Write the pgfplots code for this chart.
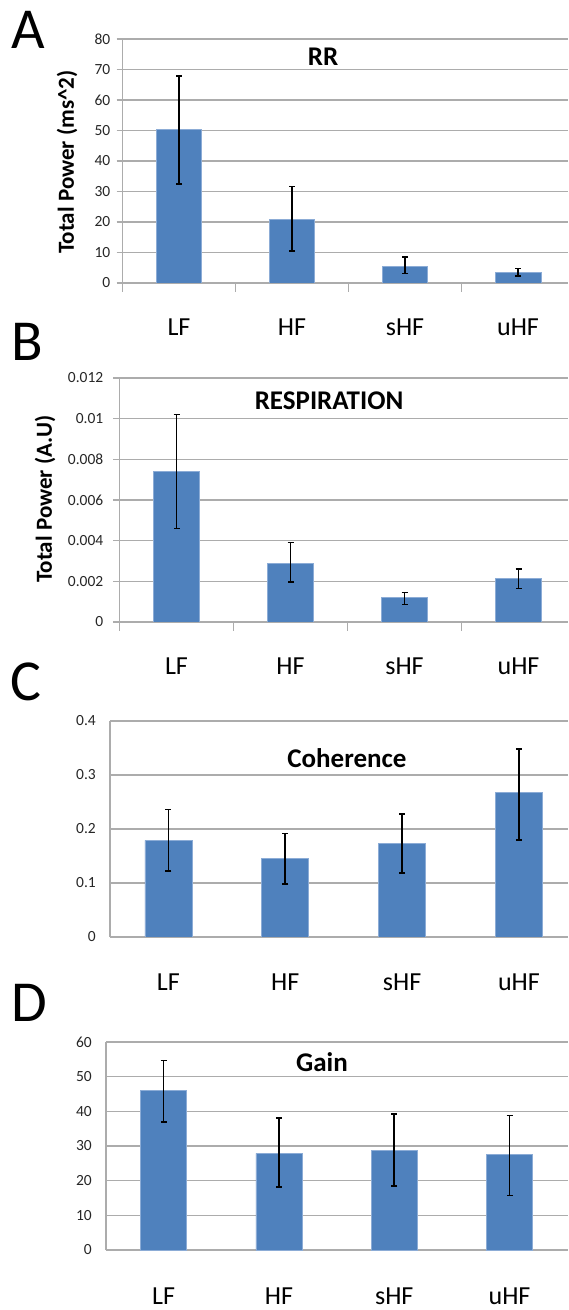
\documentclass[border=0pt]{standalone}
\usepackage{fontspec}
\setmainfont{Carlito}
\usepackage{pgfplots}
\pgfplotsset{compat=1.18}

\definecolor{barblue}{RGB}{79,129,189}
\definecolor{baredge}{RGB}{140,172,214}
\definecolor{gridgray}{RGB}{172,172,172}

\pgfplotsset{
  panel/.style={
    scale only axis, anchor=south west,
    ybar, ymin=0, enlargelimits=false,
    xmin=-0.5, scaled y ticks=false,
    axis x line*=bottom, axis y line*=left,
    axis line style={gridgray, line width=1.4pt, -},
    ymajorgrids, grid style={gridgray, line width=1.2pt},
    xtick={0,1,2,3}, xticklabels={LF,HF,sHF,uHF},
    xticklabel style={font=\fontsize{26}{30}\selectfont, anchor=base, text=black},
    yticklabel style={font=\fontsize{15.5}{18}\selectfont, text=black!85, inner sep=0pt},
    /pgf/number format/assume math mode=true,
    tick align=outside,
  },
  % panels A and B: tick marks on both axes
  ticked/.style={
    major tick length=6pt,
    ytick style={gridgray, line width=1.3pt},
    xtick style={draw=none},
    extra x ticks={-0.5,0.5,1.5,2.5}, extra x tick labels={},
    extra x tick style={xtick style={draw=gridgray, line width=1.4pt}, major tick length=9pt},
    xticklabel style={yshift=-47pt},
  },
  % panels C and D: no tick marks
  plain/.style={
    major tick length=0pt, tick style={draw=none},
    xticklabel style={yshift=-54pt},
    yticklabel style={xshift=-14pt},
  },
  bars/.style={
    fill=barblue, draw=baredge, line width=0.7pt,
    error bars/.cd, y dir=both, y explicit,
    error bar style={black, line width=1.6pt},
    error mark options={rotate=90, mark size=3pt, line width=1.6pt, black},
  },
}

\begin{document}
\begin{tikzpicture}
\path[use as bounding box] (0,0) rectangle (568pt,1310pt);

% ---- A: RR ----
\begin{axis}[panel, ticked, at={(122.5pt,1027pt)}, width=445.5pt, height=244pt,
  xmax=3.442, ymax=80, ytick={0,10,...,80}, bar width=45.6pt,
  yticklabel style={xshift=-6pt}]
\addplot[bars] coordinates {
  (0,50.4) += (0,17.5) -= (0,18.0)
  (1,20.9) += (0,10.7) -= (0,10.5)
  (2,5.3)  += (0,3.2)  -= (0,2.2)
  (3,3.4)  += (0,1.3)  -= (0,1.1)
};
\end{axis}

% ---- B: RESPIRATION ----
\begin{axis}[panel, ticked, at={(119.5pt,688pt)}, width=448.5pt, height=244pt,
  xmax=3.434, ymax=0.012, ytick={0,0.002,0.004,0.006,0.008,0.01,0.012},
  yticklabels={0,0.002,0.004,0.006,0.008,0.01,0.012}, bar width=45.6pt,
  yticklabel style={xshift=-10pt}]
\addplot[bars] coordinates {
  (0,0.0074)  += (0,0.0028)  -= (0,0.0028)
  (1,0.0029)  += (0,0.0010)  -= (0,0.00093)
  (2,0.0012)  += (0,0.00026) -= (0,0.00033)
  (3,0.00214) += (0,0.00046) -= (0,0.0005)
};
\end{axis}

% ---- C: Coherence ----
\begin{axis}[panel, plain, at={(110pt,373pt)}, width=458pt, height=216pt,
  xmax=3.42, ymax=0.4, ytick={0,0.1,0.2,0.3,0.4},
  yticklabels={0,0.1,0.2,0.3,0.4}, bar width=47pt]
\addplot[bars] coordinates {
  (0,0.179) += (0,0.057) -= (0,0.057)
  (1,0.146) += (0,0.046) -= (0,0.048)
  (2,0.174) += (0,0.054) -= (0,0.056)
  (3,0.267) += (0,0.081) -= (0,0.087)
};
\end{axis}

% ---- D: Gain ----
\begin{axis}[panel, plain, at={(106pt,60pt)}, width=462pt, height=208pt,
  xmax=3.507, ymax=60, ytick={0,10,...,60}, bar width=46pt]
\addplot[bars] coordinates {
  (0,46.1) += (0,8.6)  -= (0,9.1)
  (1,27.9) += (0,10.2) -= (0,9.8)
  (2,28.7) += (0,10.5) -= (0,10.2)
  (3,27.5) += (0,11.3) -= (0,11.8)
};
\end{axis}

% panel letters
\begin{scope}[every node/.style={font=\fontsize{58}{60}\selectfont, anchor=base west, inner sep=0pt}]
\node at (11pt,1261pt) {A};
\node at (11pt,949pt) {B};
\node at (10pt,609pt) {C};
\node at (11pt,288pt) {D};
\end{scope}

% titles
\begin{scope}[every node/.style={font=\fontsize{27}{30}\selectfont\bfseries, inner sep=0pt}]
\node at (323pt,1253pt) {RR};
\node at (329pt,909pt) {RESPIRATION};
\node at (347pt,552pt) {Coherence};
\node at (322pt,248pt) {Gain};
\end{scope}

% y labels
\begin{scope}[every node/.style={font=\fontsize{23}{26}\selectfont\bfseries, rotate=90, inner sep=0pt}]
\node at (67pt,1148pt) {Total Power (ms\textasciicircum 2)};
\node at (45pt,811pt) {Total Power (A.U)};
\end{scope}
\end{tikzpicture}
\end{document}
